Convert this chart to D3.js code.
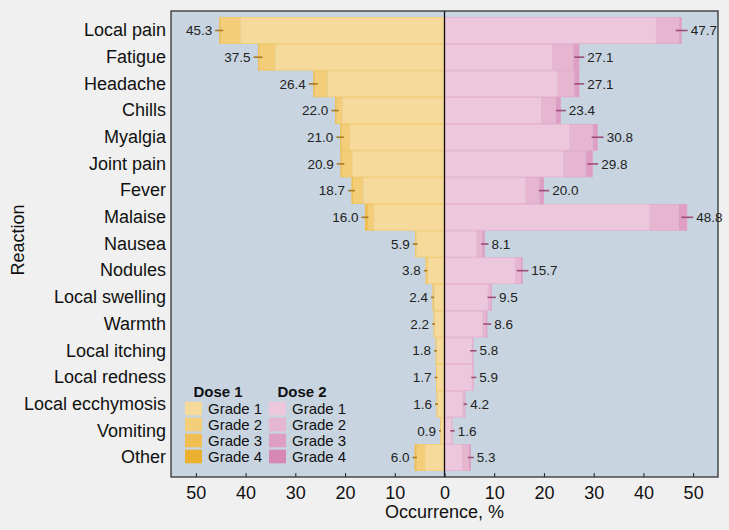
<!DOCTYPE html>
<html><head><meta charset="utf-8">
<script src="https://cdn.jsdelivr.net/npm/d3@7"></script>
<style>
html,body{margin:0;padding:0;background:#F0F0F0;}
svg{display:block;font-family:"Liberation Sans",Arial,sans-serif;}
</style></head>
<body><svg id="c" width="729" height="530"></svg>
<script>
const categories = ["Local pain","Fatigue","Headache","Chills","Myalgia","Joint pain","Fever","Malaise","Nausea","Nodules","Local swelling","Warmth","Local itching","Local redness","Local ecchymosis","Vomiting","Other"];
// Dose 1 grade breakdown (%)
const dose1Grade1 = [41.0,34.0,23.5,20.5,19.0,18.5,16.3,14.2,5.6,3.3,2.0,2.0,1.6,1.5,1.5,0.8,3.9];
const dose1Grade2 = [4.0,3.2,2.6,1.2,1.7,2.1,2.1,1.2,0.3,0.5,0.4,0.2,0.2,0.2,0.1,0.1,1.7];
const dose1Grade3 = [0.3,0.3,0.3,0.3,0.3,0.3,0.3,0.6,0,0,0,0,0,0,0,0,0.4];
const dose1Grade4 = [0,0,0,0,0,0,0,0,0,0,0,0,0,0,0,0,0];
const dose1Total = [45.3,37.5,26.4,22.0,21.0,20.9,18.7,16.0,5.9,3.8,2.4,2.2,1.8,1.7,1.6,0.9,6.0];
const dose1CI = [0.8,0.9,0.9,0.75,0.75,0.75,0.7,0.7,0.5,0.35,0.3,0.3,0.3,0.3,0.3,0.2,0.45];
// Dose 2 grade breakdown (%)
const dose2Grade1 = [42.5,21.6,22.7,19.4,25.1,23.9,16.3,41.2,6.4,14.2,8.7,7.6,5.5,5.5,3.6,1.4,3.5];
const dose2Grade2 = [4.7,4.3,3.4,3.0,4.7,4.5,2.8,5.9,1.2,1.2,0.6,0.8,0.3,0.4,0.6,0.2,1.4];
const dose2Grade3 = [0.5,1.2,1.0,1.0,1.0,1.4,0.9,1.7,0.5,0.3,0.2,0.2,0,0,0,0,0.4];
const dose2Grade4 = [0,0,0,0,0,0,0,0,0,0,0,0,0,0,0,0,0];
const dose2Total = [47.7,27.1,27.1,23.4,30.8,29.8,20.0,48.8,8.1,15.7,9.5,8.6,5.8,5.9,4.2,1.6,5.3];
const dose2CI = [1.2,1.0,1.0,1.0,1.2,1.1,1.05,1.2,0.75,1.15,0.85,0.8,0.65,0.5,0.35,0.45,0.6];
const xTicks = [-50,-40,-30,-20,-10,0,10,20,30,40,50];
const gradeNames = ["Grade 1","Grade 2","Grade 3","Grade 4"];
const dose1Colors = ["#F6DA9B","#F3CD78","#F0BE52","#EBB030"];
const dose2Colors = ["#EDC7DC","#E6B5D0","#DF9FC4","#D787B5"];
const dose1Stroke = "#EFC35A", dose2Stroke = "#DFA5C6";
const dose1Err = "#A87A22", dose2Err = "#9E4D78";

const svg = d3.select("#c");
const L = 171, R = 718, T = 11, B = 477;
const x = d3.scaleLinear().domain([-55,55]).range([L,R]);
const y = d3.scaleBand().domain(categories).range([T,B]).paddingInner(0).paddingOuter(0.23);

svg.append("rect").attr("x",L).attr("y",T).attr("width",R-L).attr("height",B-T).attr("fill","#C8D5E1");

function drawDose(grades, colors, stroke, sign){
  categories.forEach((c,i)=>{
    let cum = 0;
    grades.forEach((g,k)=>{
      const v = g[i];
      if(v<=0) return;
      const a = x(sign*cum), b = x(sign*(cum+v));
      svg.append("rect")
        .attr("x",Math.min(a,b)).attr("y",y(c))
        .attr("width",Math.abs(b-a)).attr("height",y.bandwidth())
        .attr("fill",colors[k]);
      cum += v;
    });
    const a = x(0), b = x(sign*cum);
    svg.append("rect").attr("x",Math.min(a,b)+0.4).attr("y",y(c)+0.4)
      .attr("width",Math.max(0,Math.abs(b-a)-0.8)).attr("height",y.bandwidth()-0.8)
      .attr("fill","none").attr("stroke",stroke).attr("stroke-width",0.8).attr("stroke-opacity",0.6);
  });
}
drawDose([dose1Grade1,dose1Grade2,dose1Grade3,dose1Grade4], dose1Colors, dose1Stroke, -1);
drawDose([dose2Grade1,dose2Grade2,dose2Grade3,dose2Grade4], dose2Colors, dose2Stroke, 1);

// error ticks and labels
categories.forEach((c,i)=>{
  const cy = y(c)+y.bandwidth()/2;
  const l1 = x(-(dose1Total[i]+dose1CI[i])), r1 = x(-(dose1Total[i]-dose1CI[i]));
  svg.append("line").attr("x1",l1).attr("x2",r1).attr("y1",cy).attr("y2",cy)
    .attr("stroke",dose1Err).attr("stroke-width",1.6);
  svg.append("text").attr("x",l1-3).attr("y",cy).attr("dy","0.35em")
    .attr("text-anchor","end").attr("font-size",13.5).attr("fill","#222")
    .text(dose1Total[i].toFixed(1));
  const l2 = x(dose2Total[i]-dose2CI[i]), r2 = x(dose2Total[i]+dose2CI[i]);
  svg.append("line").attr("x1",l2).attr("x2",r2).attr("y1",cy).attr("y2",cy)
    .attr("stroke",dose2Err).attr("stroke-width",1.6);
  svg.append("text").attr("x",r2+3).attr("y",cy).attr("dy","0.35em")
    .attr("text-anchor","start").attr("font-size",13.5).attr("fill","#222")
    .text(dose2Total[i].toFixed(1));
});

// zero line
svg.append("line").attr("x1",x(0)).attr("x2",x(0)).attr("y1",T).attr("y2",B)
  .attr("stroke","#111").attr("stroke-width",1.3);

// frame
svg.append("rect").attr("x",L).attr("y",T).attr("width",R-L).attr("height",B-T)
  .attr("fill","none").attr("stroke","#222").attr("stroke-width",1.2);

// x axis
const xAxis = d3.axisBottom(x).tickValues(xTicks).tickSize(-4).tickSizeOuter(0)
  .tickPadding(9).tickFormat(d=>Math.abs(d));
const gx = svg.append("g").attr("transform",`translate(0,${B})`).call(xAxis);
gx.select(".domain").remove();
gx.selectAll(".tick line").attr("stroke","#222");
gx.selectAll(".tick text").attr("font-size",18).attr("fill","#111")
  .attr("font-family","Liberation Sans, Arial, sans-serif");

// y axis labels
const yAxis = d3.axisLeft(y).tickSize(0).tickPadding(5);
const gy = svg.append("g").attr("transform",`translate(${L},0)`).call(yAxis);
gy.select(".domain").remove();
gy.selectAll(".tick text").attr("font-size",18).attr("fill","#111")
  .attr("font-family","Liberation Sans, Arial, sans-serif");

// axis titles
svg.append("text").attr("x",x(0)).attr("y",518).attr("text-anchor","middle")
  .attr("font-size",18).attr("fill","#111").text("Occurrence, %");
svg.append("text").attr("transform","translate(24,240) rotate(-90)").attr("text-anchor","middle")
  .attr("font-size",18).attr("fill","#111").text("Reaction");

// legend
function legend(x0, title, colors){
  svg.append("text").attr("x",x0+33).attr("y",397).attr("text-anchor","middle")
    .attr("font-size",15).attr("font-weight","bold").attr("fill","#111").text(title);
  gradeNames.forEach((g,k)=>{
    const cy = 408.5 + k*16;
    svg.append("rect").attr("x",x0).attr("y",cy-6.8).attr("width",17).attr("height",13.6)
      .attr("fill",colors[k]);
    svg.append("text").attr("x",x0+23).attr("y",cy).attr("dy","0.35em")
      .attr("font-size",15).attr("fill","#111").text(g);
  });
}
legend(185, "Dose 1", dose1Colors);
legend(269, "Dose 2", dose2Colors);
</script></body></html>
